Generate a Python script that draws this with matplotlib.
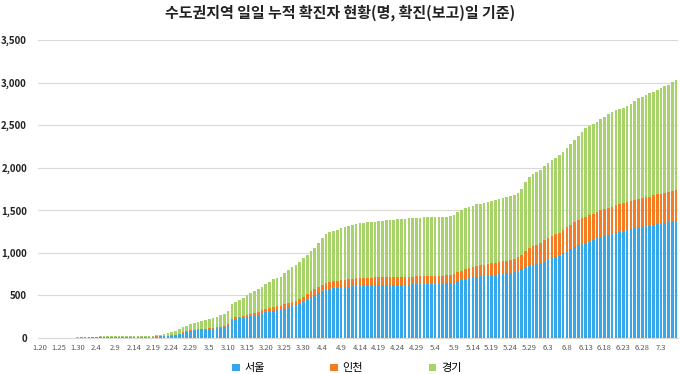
import matplotlib
matplotlib.use("Agg")
import matplotlib.pyplot as plt
import numpy as np
import pandas as pd

plt.rcParams['font.family'] = ['Noto Sans CJK KR', 'DejaVu Sans']

# daily dates 1.20 ~ 7.7 (2020)
dates = pd.date_range("2020-01-20", "2020-07-07", freq="D")
labels = ["%d.%d" % (d.month, d.day) for d in dates]

# cumulative confirmed cases
seoul = [
    0, 0, 0, 0, 1, 1, 1, 1, 1, 1, 3, 5,
    6, 7, 7, 7, 8, 8, 8, 8, 8, 8, 9, 9, 9, 9, 9, 10, 10, 11, 14, 17, 20, 22, 24, 27, 35, 47, 60, 74, 86,
    91, 98, 100, 102, 106, 110, 115, 121, 130, 153, 211, 222, 231, 237, 243, 253, 262, 275, 288, 300,
    312, 320, 324, 329, 345, 360, 370, 380, 395, 420, 450,
    485, 510, 530, 550, 563, 575, 585, 590, 595, 600, 604, 608, 611, 614, 616, 618, 620, 621, 622, 623,
    624, 625, 626, 627, 627, 628, 628, 629, 630, 632,
    633, 634, 635, 636, 637, 638, 640, 642, 650, 668, 684, 697, 707, 715, 722, 727, 731, 735, 740, 745,
    750, 755, 760, 765, 775, 790, 805, 830, 850, 860, 869,
    875, 898, 916, 935, 950, 965, 994, 1015, 1040, 1072, 1090, 1105, 1118, 1131, 1150, 1170, 1189, 1200,
    1212, 1224, 1236, 1245, 1255, 1265, 1276, 1288, 1296, 1303, 1310, 1316,
    1327, 1336, 1345, 1353, 1360, 1369, 1377,
]
incheon = [
    1, 1, 1, 1, 1, 1, 1, 1, 1, 1, 1, 1,
    1, 1, 1, 1, 1, 1, 1, 1, 1, 1, 1, 1, 1, 1, 1, 1, 1, 1, 1, 1, 1, 2, 3, 3, 3, 4, 6, 6, 7,
    7, 8, 9, 9, 9, 9, 9, 10, 10, 14, 17, 19, 20, 22, 25, 27, 29, 32, 35, 40,
    42, 44, 46, 48, 50, 52, 54, 56, 58, 60, 64,
    67, 70, 73, 76, 78, 80, 82, 84, 85, 86, 87, 88, 88, 89, 89, 90, 90, 91, 91, 92,
    92, 92, 93, 93, 93, 93, 93, 93, 94, 94,
    94, 94, 95, 95, 95, 95, 96, 96, 100, 104, 108, 112, 117, 121, 125, 128, 131, 134, 137, 140,
    143, 146, 148, 150, 155, 160, 172, 192, 205, 215, 225,
    238, 250, 258, 265, 270, 274, 278, 283, 289, 294, 298, 302, 305, 308, 310, 312, 313, 315,
    317, 319, 321, 323, 325, 327, 329, 332, 335, 338, 341, 344,
    347, 350, 352, 354, 356, 358, 360,
]
gyeonggi = [
    0, 0, 0, 0, 0, 0, 0, 1, 1, 1, 2, 3,
    5, 6, 7, 8, 9, 10, 11, 11, 11, 12, 12, 12, 12, 12, 12, 12, 12, 12, 13, 15, 17, 19, 28, 40, 48, 55, 59, 65, 71,
    82, 86, 91, 100, 104, 112, 123, 135, 138, 154, 167, 182, 195, 214, 233, 245, 265, 268, 280, 290,
    306, 325, 335, 343, 365, 386, 406, 424, 443, 455, 456,
    468, 480, 507, 544, 576, 585, 591, 600, 608, 614, 619, 631, 638, 643, 647, 650, 654, 656, 659, 661,
    665, 668, 671, 674, 678, 681, 684, 686, 688, 688,
    689, 690, 690, 690, 690, 690, 690, 690, 700, 703, 708, 713, 716, 719, 722, 723, 724, 726, 728, 737,
    739, 741, 744, 750, 754, 755, 768, 808, 839, 850, 856,
    862, 870, 877, 885, 895, 911, 916, 932, 946, 958, 982, 1013, 1039, 1051, 1055, 1057, 1068, 1085,
    1101, 1114, 1118, 1122, 1123, 1130, 1145, 1165, 1183, 1194, 1204, 1215,
    1218, 1229, 1238, 1248, 1259, 1278, 1298,
]

series_names = ["서울", "인천", "경기"]
colors = ["#35A8EC", "#F57C22", "#A8D26A"]

s = np.array(seoul)
ic = np.array(incheon)
g = np.array(gyeonggi)
x = np.arange(len(labels))

fig = plt.figure(figsize=(6.8, 3.74), dpi=100)
ax = fig.add_axes([0.056, 0.0963, 0.941, 0.7967])

ax.bar(x, s, width=0.7, color=colors[0], label=series_names[0], zorder=3)
ax.bar(x, ic, width=0.7, bottom=s, color=colors[1], label=series_names[1], zorder=3)
ax.bar(x, g, width=0.7, bottom=s + ic, color=colors[2], label=series_names[2], zorder=3)

ax.set_xlim(-0.5, len(labels) - 0.5)
ax.set_ylim(0, 3500)
ax.set_yticks(np.arange(0, 3501, 500))
ax.set_yticklabels(["{:,}".format(v) for v in range(0, 3501, 500)],
                   fontsize=7, color="#222222", fontweight="bold")
ax.yaxis.grid(True, color="#D9D9D9", linewidth=0.8, zorder=0)
ax.set_axisbelow(True)

ax.set_xticks(x[::5])
ax.set_xticklabels(labels[::5], fontsize=5.5, color="#595959")
ax.tick_params(axis="y", length=0, pad=8)
ax.tick_params(axis="x", length=0, pad=4)

for sp in ["top", "right", "left"]:
    ax.spines[sp].set_visible(False)
ax.spines["bottom"].set_color("#D9D9D9")

fig.text(0.5, 0.965, "수도권지역 일일 누적 확진자 현황(명, 확진(보고)일 기준)",
         ha="center", va="center", fontsize=10.8, fontweight="bold", color="#222222")

fig.legend(loc="lower center", bbox_to_anchor=(0.51, -0.025), ncol=3, frameon=False,
           fontsize=8, handlelength=0.7, handleheight=0.7, columnspacing=5.9,
           handletextpad=0.4)

fig.savefig("out.png", dpi=100)
